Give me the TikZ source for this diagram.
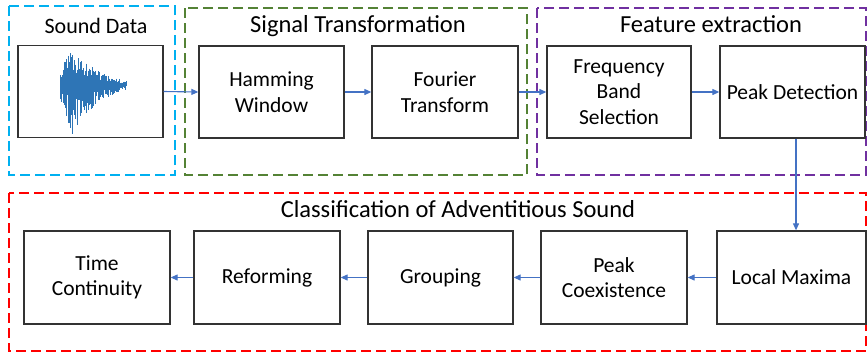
\documentclass[tikz,border=0pt]{standalone}
\usepackage{fontspec}
\setmainfont{Carlito}
\usetikzlibrary{arrows.meta}
\definecolor{frameblue}{HTML}{00B0F0}
\definecolor{framegreen}{HTML}{548235}
\definecolor{framepurple}{HTML}{7030A0}
\definecolor{framered}{HTML}{FF0000}
\definecolor{linkblue}{HTML}{4472C4}
\definecolor{wavecol}{HTML}{2E75B6}
\definecolor{boxline}{HTML}{333333}
\tikzset{
  frame/.style={line width=2.8pt, dash pattern=on 10pt off 5pt},
  stage/.style={draw=boxline, line width=1.3pt, minimum width=145pt, minimum height=92pt,
    inner sep=0pt, align=center, font=\fontsize{21.5}{25.5}\selectfont},
  title/.style={anchor=base, font=\fontsize{24.5}{28}\selectfont},
  link/.style={draw=linkblue, line width=1.1pt, -{Triangle[length=7pt,width=6pt]}},
  wave/.style={draw=wavecol, line width=0.45pt}
}
\begin{document}
\begin{tikzpicture}[x=1pt,y=-1pt]
\useasboundingbox (0,0) rectangle (868,354);

% dashed group frames
\draw[frame, frameblue] (9,6) rectangle (175,175);
\draw[frame, framegreen] (185,8) rectangle (527,175);
\draw[frame, framepurple] (537,8) rectangle (866,175);
\draw[frame, framered] (9,193) rectangle (866,351);

% group titles
\node[title, font=\fontsize{22}{26}\selectfont] (tsd) at (96,33) {Sound Data};
\node[title] (tst) at (358,32) {Signal Transformation};
\node[title] (tfe) at (711,32) {Feature extraction};
\node[title] (tcl) at (458,217) {Classification of Adventitious Sound};

% processing stages
\node[stage] (snd) at (90.5,91.5) {};
\node[stage] (hw) at (271.5,92) {Hamming\\Window};
\node[stage, minimum width=146pt] (ft) at (445,92) {Fourier\\Transform};
\node[stage, minimum width=144pt] (fb) at (619,92) {Frequency\\Band\\Selection};
\node[stage] (pd) at (792.5,92) {Peak Detection};

\node[stage, minimum width=146pt, minimum height=93pt] (tc) at (97,277.5) {Time\\Continuity};
\node[stage, minimum width=146pt, minimum height=93pt] (rf) at (267,277.5) {Reforming};
\node[stage, minimum height=93pt] (gr) at (440.5,277.5) {Grouping};
\node[stage, minimum width=146pt, minimum height=93pt] (pc) at (614,277.5) {Peak\\Coexistence};
\node[stage, minimum width=149pt, minimum height=93pt] (lm) at (791.5,277.5) {Local Maxima};

% sound waveform
\pgfmathsetseed{7}
\foreach \i in {0,...,220} {
  \pgfmathsetmacro{\xx}{60+\i*0.3}
  \pgfmathsetmacro{\tp}{(\xx-60)/66}
  \pgfmathsetmacro{\env}{\tp<0.18 ? (0.3+0.7*\tp/0.18) : exp(-(\tp-0.18)*2.6)}
  \pgfmathsetmacro{\up}{\env*(11+30*rnd^2)}
  \pgfmathsetmacro{\dn}{\env*(11+40*rnd^2)}
  \draw[wave] (\xx,85-\up) -- (\xx,85+\dn);
}

% connectors
\draw[link] (snd.east) -- (hw.west);
\draw[link] (hw.east) -- (ft.west);
\draw[link] (ft.east) -- (fb.west);
\draw[link] (fb.east) -- (pd.west);
\draw[link] ([xshift=3.5pt]pd.south) -- ([xshift=3.5pt]pd.south |- lm.north);
\draw[link] (lm.west) -- (pc.east);
\draw[link] (pc.west) -- (gr.east);
\draw[link] (gr.west) -- (rf.east);
\draw[link] (rf.west) -- (tc.east);
\end{tikzpicture}
\end{document}
